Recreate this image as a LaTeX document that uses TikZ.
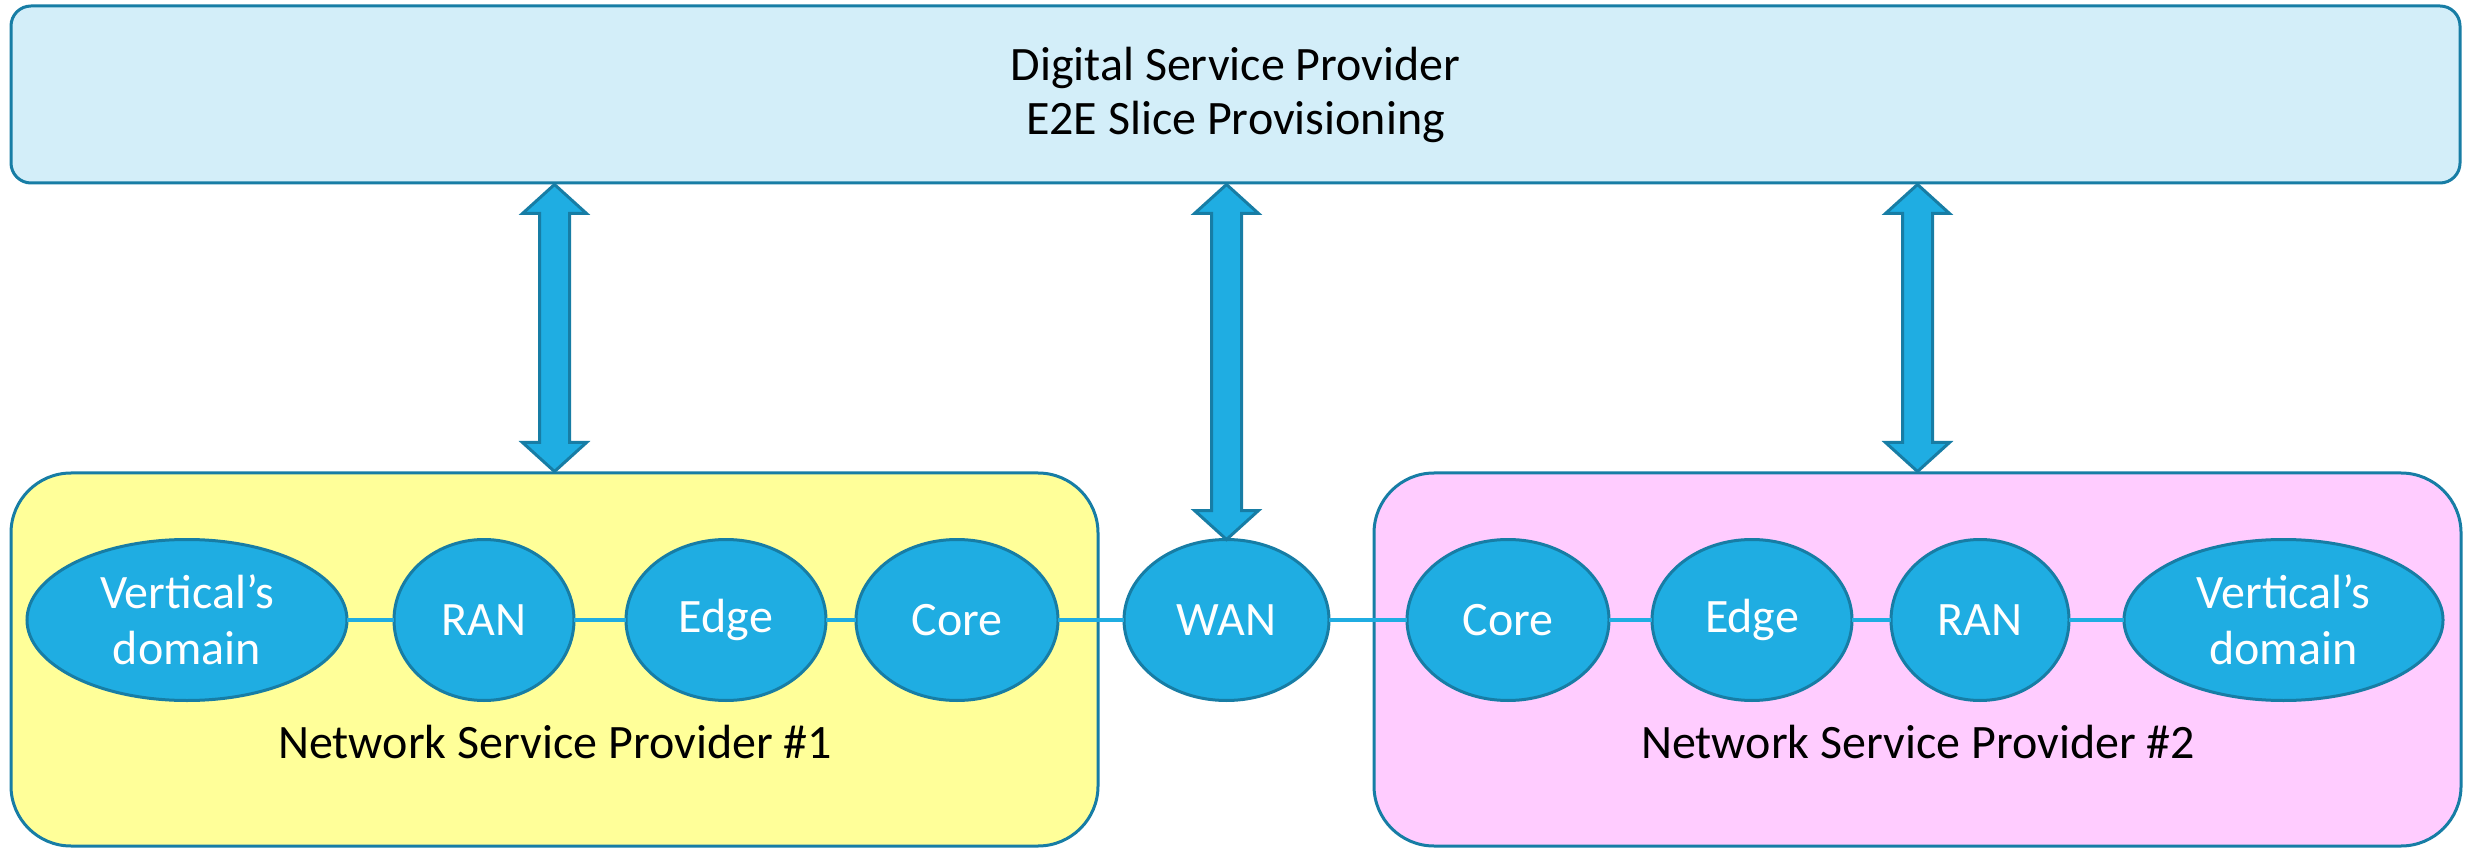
\documentclass[tikz,border=0pt]{standalone}
\usepackage{fontspec}
\setmainfont{Carlito}
\usetikzlibrary{shapes.geometric,positioning,calc}

\definecolor{domblue}{RGB}{31,173,226}
\definecolor{rimblue}{RGB}{23,125,165}
\definecolor{dspfill}{RGB}{211,238,249}
\definecolor{nspyellow}{RGB}{255,255,153}
\definecolor{nsppink}{RGB}{255,204,255}

\tikzset{
  every node/.style={font=\fontsize{24}{28}\selectfont},
  slicedom/.style={ellipse, draw=rimblue, line width=1.5pt, fill=domblue,
    text=white, minimum height=80.5pt, inner sep=0pt, outer sep=0pt, align=center},
  nspbox/.style={rectangle, rounded corners=30pt, draw=rimblue, line width=1.5pt,
    minimum width=543.5pt, minimum height=186.5pt},
  link/.style={draw=domblue, line width=2pt},
  blockarrow/.style={draw=rimblue, fill=domblue, line width=1.5pt},
}

% double block arrow between two points
\newcommand{\dualarrow}[2]{%
  \draw[blockarrow] let \p1=(#1), \p2=(#2) in
    (\x1,\y1) -- (\x1+16pt,\y1-14.5pt) -- (\x1+7.5pt,\y1-14.5pt)
    -- (\x2+7.5pt,\y2+14.5pt) -- (\x2+16pt,\y2+14.5pt) -- (\x2,\y2)
    -- (\x2-16pt,\y2+14.5pt) -- (\x2-7.5pt,\y2+14.5pt)
    -- (\x1-7.5pt,\y1-14.5pt) -- (\x1-16pt,\y1-14.5pt) -- cycle;}

\begin{document}
\begin{tikzpicture}[x=0.5pt, y=-0.5pt]
  \useasboundingbox (0,0) rectangle (2471,849);

  % providers
  \node[nspbox, fill=nspyellow] (nsp1) at (554.5,659.5) {};
  \node[nspbox, fill=nsppink] (nsp2) at (1917.5,659.5) {};
  \node (nsp1lbl) at (555,742) {Network Service Provider \#1};
  \node (nsp2lbl) at (1918,742) {Network Service Provider \#2};

  \node[rectangle, rounded corners=10pt, draw=rimblue, line width=1.5pt, fill=dspfill,
    minimum width=1224.5pt, minimum height=88.5pt, align=center,
    font=\fontsize{24}{27}\selectfont] (dsp) at (1235.5,94.5)
    {Digital Service Provider\\E2E Slice Provisioning};

  % domains
  \node[slicedom, minimum width=160pt] (vdl) at (187,620) {Vertical’s\\domain};
  \node[slicedom, minimum width=90pt, right=23.5pt of vdl] (ranl) {RAN};
  \node[slicedom, minimum width=100pt, right=26pt of ranl] (edgel) {Edge};
  \node[slicedom, minimum width=101pt, right=15pt of edgel] (corel) {Core};
  \node[slicedom, minimum width=102.5pt, right=33pt of corel] (wan) {WAN};
  \node[slicedom, minimum width=101pt, right=39pt of wan] (corer) {Core};
  \node[slicedom, minimum width=100pt, right=21.5pt of corer] (edger) {Edge};
  \node[slicedom, minimum width=89pt, right=19.5pt of edger] (ranr) {RAN};
  \node[slicedom, minimum width=159.5pt, right=27.5pt of ranr] (vdr) {Vertical’s\\domain};

  \draw[link] (vdl) -- (ranl) -- (edgel) -- (corel) -- (wan)
    -- (corer) -- (edger) -- (ranr) -- (vdr);

  % provisioning arrows
  \dualarrow{dsp.south -| nsp1.north}{nsp1.north}
  \dualarrow{dsp.south -| wan.north}{wan.north}
  \dualarrow{dsp.south -| nsp2.north}{nsp2.north}
\end{tikzpicture}
\end{document}
